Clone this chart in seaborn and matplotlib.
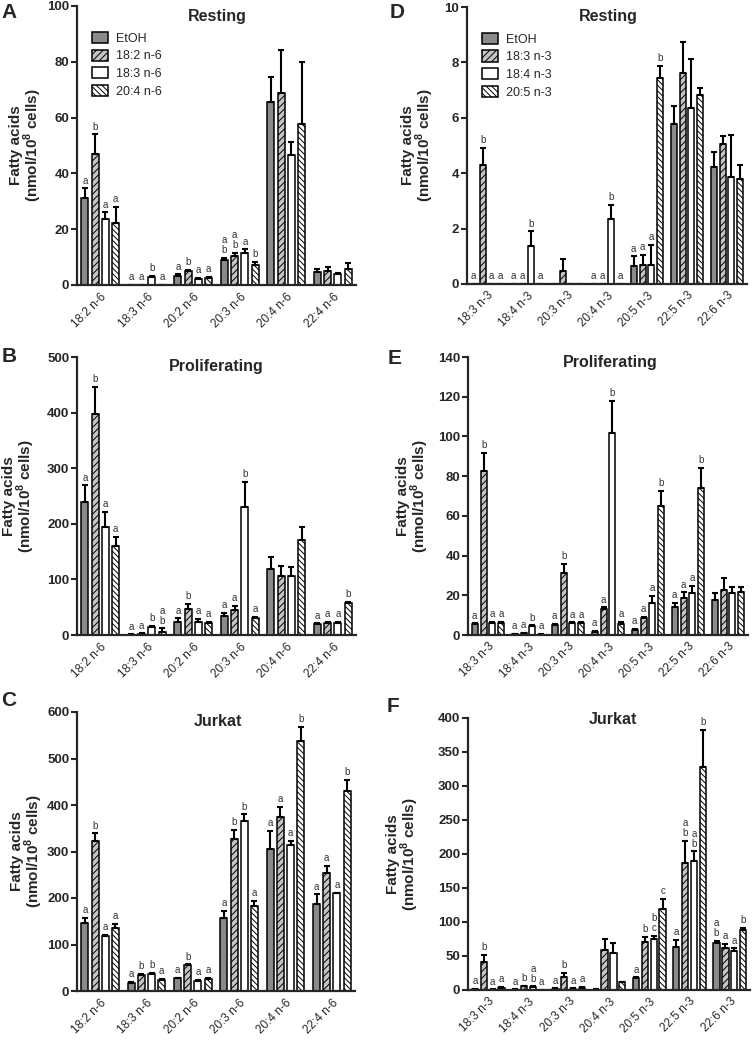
import numpy as np
import pandas as pd
import seaborn as sns
import matplotlib.pyplot as plt
from matplotlib.patches import Patch

# === SETTINGS ===
sns.set_style("ticks")
plt.rcParams["font.family"] = ["Liberation Sans", "DejaVu Sans"]
plt.rcParams["mathtext.fontset"] = "custom"
plt.rcParams["mathtext.rm"] = "Liberation Sans"
plt.rcParams["mathtext.bf"] = "Liberation Sans:bold"
plt.rcParams["hatch.linewidth"] = 0.7

W, H = 752, 1041

# === DATA ===
n6_cats = ["18:2 n-6", "18:3 n-6", "20:2 n-6", "20:3 n-6", "20:4 n-6", "22:4 n-6"]
n6_groups = ["EtOH", "18:2 n-6", "18:3 n-6", "20:4 n-6"]
n3_cats = ["18:3 n-3", "18:4 n-3", "20:3 n-3", "20:4 n-3", "20:5 n-3", "22:5 n-3", "22:6 n-3"]
n3_groups = ["EtOH", "18:3 n-3", "18:4 n-3", "20:5 n-3"]

# A - Resting, n-6 (one row per treatment)
A_means = [[31.3, 0, 3.3, 9.0, 65.6, 4.8],
           [47.0, 0, 5.0, 10.4, 68.9, 5.1],
           [23.5, 2.8, 2.2, 11.6, 46.7, 4.0],
           [22.2, 0, 2.5, 7.0, 57.8, 5.9]]
A_errs = [[3.3, 0, 0.5, 0.6, 8.9, 0.8],
          [7.0, 0, 0.5, 1.0, 15.5, 1.5],
          [2.5, 0.4, 0.3, 1.2, 4.4, 0.2],
          [5.9, 0, 0.3, 1.4, 22.2, 1.9]]
A_letters = [["a", "a", "a", "a\nb", "", ""],
             ["b", "a", "b", "a\nb", "", ""],
             ["a", "b", "a", "a", "", ""],
             ["a", "a", "a", "b", "", ""]]

# B - Proliferating, n-6
B_means = [[239, 0.5, 24, 34, 118, 19],
           [398, 2.5, 46, 45, 106, 21],
           [195, 14, 24, 230, 107, 21],
           [160, 6, 21, 31, 171, 58]]
B_errs = [[30, 0.5, 6, 6, 23, 2],
          [48, 0.5, 10, 7, 18, 2],
          [27, 2, 5, 46, 15, 3],
          [16, 6, 2, 2, 24, 2]]
B_letters = [["a", "a", "a", "a", "", "a"],
             ["b", "a", "b", "a", "", "a"],
             ["a", "b", "a", "b", "", "a"],
             ["a", "a\nb", "a", "a", "", "b"]]

# C - Jurkat, n-6
C_means = [[146, 18, 27, 158, 306, 187],
           [323, 34, 55, 326, 375, 254],
           [118, 37, 21.5, 366, 315, 210],
           [136, 24, 26.5, 183, 538, 431]]
C_errs = [[12, 2, 2, 14, 38, 21],
          [16, 2, 2, 20, 21, 15],
          [2, 2, 2, 14, 8, 1.5],
          [8, 2, 2, 10, 30, 23]]
C_letters = [["a", "a", "a", "a", "a", "a"],
             ["b", "b", "b", "b", "a", "a"],
             ["a", "b", "a", "b", "a", "a"],
             ["a", "a", "a", "a", "b", "b"]]

# D - Resting, n-3
D_means = [[0, 0, 0, 0, 0.64, 5.76, 4.24],
           [4.3, 0, 0.46, 0, 0.67, 7.62, 5.05],
           [0, 1.38, 0, 2.35, 0.70, 6.36, 3.88],
           [0, 0, 0, 0, 7.42, 6.82, 3.80]]
D_errs = [[0, 0, 0, 0, 0.36, 0.66, 0.52],
          [0.6, 0, 0.44, 0, 0.39, 1.13, 0.29],
          [0, 0.52, 0, 0.51, 0.70, 1.78, 1.49],
          [0, 0, 0, 0, 0.46, 0.26, 0.50]]
D_letters = [["a", "a", "", "a", "a", "", ""],
             ["b", "a", "", "a", "a", "", ""],
             ["a", "b", "", "b", "a", "", ""],
             ["a", "a", "", "a", "b", "", ""]]

# E - Proliferating, n-3
E_means = [[5.4, 0.3, 5.0, 1.7, 2.5, 14.3, 17.6],
           [82.7, 0.9, 31, 12.9, 8.7, 18.5, 22.7],
           [6.2, 4.3, 5.9, 101.5, 16.3, 21.3, 21.0],
           [6.2, 0.2, 5.9, 5.5, 65, 73.8, 21.8]]
E_errs = [[0.5, 0.2, 0.5, 0.5, 0.5, 2.0, 3.7],
          [9.1, 0.3, 5, 1.0, 0.5, 3.0, 6.2],
          [0.5, 0.5, 0.4, 16.3, 3.3, 3.5, 3.3],
          [0.5, 0.2, 0.4, 1.2, 7.5, 10.2, 2.2]]
E_letters = [["a", "a", "a", "a", "a", "a", ""],
             ["b", "a", "b", "a", "a", "a", ""],
             ["a", "b", "a", "b", "a", "a", ""],
             ["a", "a", "a", "a", "b", "b", ""]]

# F - Jurkat, n-3
F_means = [[1, 0.5, 2, 0.5, 17, 62.8, 68.7],
           [41.7, 5.5, 19.6, 59, 71, 187.5, 61.3],
           [0.5, 4.5, 2, 55, 74.6, 189, 57.4],
           [3.5, 0.3, 3.5, 11.3, 118.8, 328, 88.3]]
F_errs = [[0.3, 0.3, 0.5, 0.3, 1.6, 10.8, 3.3],
          [9.8, 1, 6, 15.6, 7.5, 32, 6],
          [0.3, 0.8, 0.5, 13.7, 5.4, 14.7, 3.9],
          [0.6, 0.3, 0.6, 1, 14.7, 55, 3.5]]
F_letters = [["a", "a", "a", "", "a", "a", "a\nb"],
             ["b", "b", "b", "", "b", "a\nb", "a"],
             ["a", "a\nb", "a", "", "b\nc", "a\nb", "a"],
             ["a", "a", "a", "", "c", "b", "b"]]

FILLS = ["#8a8a8a", "#c4c4c4", "white", "white"]
HATCHES = ["", "/////", "", "\\\\\\\\\\\\"]


def px_axes(fig, left, top, right, bottom):
    return fig.add_axes([left / W, 1 - bottom / H, (right - left) / W, (bottom - top) / H])


def draw_panel(ax, cats, groups, means, errs, letters, ymax, ystep, label_px):
    rows = []
    for g, vals in zip(groups, means):
        for c, v in zip(cats, vals):
            rows.append({"cat": c, "grp": g, "val": v})
    df = pd.DataFrame(rows)
    sns.barplot(data=df, x="cat", y="val", hue="grp", order=cats, hue_order=groups,
                palette=FILLS, saturation=1, errorbar=None, width=0.88, gap=0.3,
                edgecolor="black", linewidth=1.1, legend=False, ax=ax)

    bars = list(ax.containers)
    for i, cont in enumerate(bars):
        xs = [b.get_x() + b.get_width() / 2 for b in cont]
        for b in cont:
            b.set_hatch(HATCHES[i])
        ax.errorbar(xs, means[i], yerr=[np.zeros(len(xs)), errs[i]], fmt="none",
                    ecolor="black", elinewidth=1.5, capsize=2.2, capthick=1.5)
        for x, m, e, lab in zip(xs, means[i], errs[i], letters[i]):
            if lab:
                ax.annotate(lab, (x, m + e), xytext=(0, 2), textcoords="offset points",
                            ha="center", va="bottom", fontsize=7, color="#333333",
                            linespacing=1.0)

    ticks = np.arange(0, ymax + ystep / 2, ystep)
    ax.set_xlim(-0.5, len(cats) - 0.5)
    ax.set_ylim(0, ymax)
    ax.set_yticks(ticks)
    ax.set_yticklabels([f"{t:g}" for t in ticks], fontweight="bold", fontsize=9.5)
    ax.set_xticks(range(len(cats)))
    ax.set_xticklabels(cats, rotation=45, ha="right", rotation_mode="anchor", fontsize=8.5)
    ax.tick_params(axis="x", length=0, pad=4)
    ax.tick_params(axis="y", length=4, width=1.5, pad=1.5)
    ax.set_xlabel("")
    ax.set_ylabel("Fatty acids\n(nmol/10$^{\\mathbf{8}}$ cells)", fontsize=11,
                  fontweight="bold", linespacing=0.9)
    # place the label's right edge at the reference pixel column
    bbox = ax.get_position()
    ax.yaxis.set_label_coords((label_px / W - bbox.x0) / bbox.width, 0.5)
    sns.despine(ax=ax)
    for s in ["left", "bottom"]:
        ax.spines[s].set_linewidth(1.6)


def add_legend(ax, groups):
    handles = [Patch(facecolor=FILLS[i], edgecolor="black", hatch=HATCHES[i],
                     linewidth=1.1, label=g) for i, g in enumerate(groups)]
    ax.legend(handles=handles, loc="upper left", bbox_to_anchor=(0.035, 0.925),
              frameon=False, fontsize=9, handlelength=1.3, handleheight=1.0,
              labelspacing=0.38, handletextpad=0.6, borderaxespad=0)


fig = plt.figure(figsize=(W / 100, H / 100), dpi=100)

axA = px_axes(fig, 77, 6, 356, 285)
draw_panel(axA, n6_cats, n6_groups, A_means, A_errs, A_letters, 100, 20, 44)
add_legend(axA, n6_groups)

axB = px_axes(fig, 77, 357, 356, 635)
draw_panel(axB, n6_cats, n6_groups, B_means, B_errs, B_letters, 500, 100, 37)

axC = px_axes(fig, 77, 712, 355, 991)
draw_panel(axC, n6_cats, n6_groups, C_means, C_errs, C_letters, 600, 100, 45)

axD = px_axes(fig, 467, 7, 747, 284)
draw_panel(axD, n3_cats, n3_groups, D_means, D_errs, D_letters, 10, 2, 436)
add_legend(axD, n3_groups)

axE = px_axes(fig, 468, 357, 748, 635)
draw_panel(axE, n3_cats, n3_groups, E_means, E_errs, E_letters, 140, 20, 431)

axF = px_axes(fig, 468, 718, 750, 990)
draw_panel(axF, n3_cats, n3_groups, F_means, F_errs, F_letters, 400, 50, 421)

# titles and panel letters
titles = [("Resting", 217, 17), ("Proliferating", 216, 367), ("Jurkat", 218, 722),
          ("Resting", 608, 17), ("Proliferating", 610, 362), ("Jurkat", 613, 720)]
for txt, x, y in titles:
    fig.text(x / W, 1 - y / H, txt, ha="center", va="center", fontsize=11.5, fontweight="bold")

panel_letters = [("A", 9, 12), ("B", 9, 357), ("C", 9, 701),
                 ("D", 397, 12), ("E", 395, 358), ("F", 393, 707)]
for txt, x, y in panel_letters:
    fig.text(x / W, 1 - y / H, txt, ha="center", va="center", fontsize=15, fontweight="bold")

fig.savefig("out.png", dpi=100)
plt.close(fig)
